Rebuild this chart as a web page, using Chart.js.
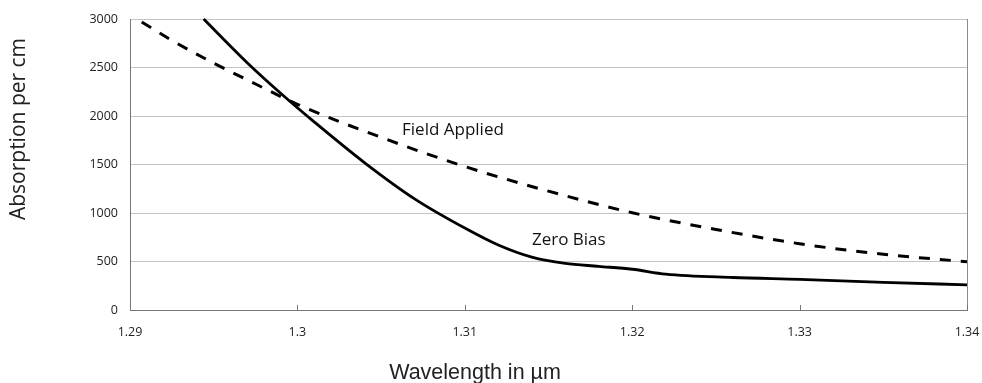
<!DOCTYPE html>
<html>
<head>
<meta charset="utf-8">
<script src="https://cdn.jsdelivr.net/npm/chart.js@4.4.1/dist/chart.umd.min.js"></script>
<style>
  html, body { margin: 0; padding: 0; background: #fff; }
  #wrap { width: 982px; height: 383px; }
</style>
</head>
<body>
<div id="wrap"><canvas id="absChart" width="982" height="383"></canvas></div>
<script>
// values
const zeroBiasWl = [1.2944, 1.297, 1.299, 1.301, 1.304, 1.307, 1.310, 1.312, 1.314, 1.316, 1.318, 1.320, 1.322, 1.326, 1.330, 1.335, 1.340];
const zeroBiasAbs = [3000, 2550, 2235, 1940, 1520, 1146, 845, 670, 545, 480, 450, 420, 370, 335, 315, 285, 260];

const fieldWl = [1.2907, 1.2925, 1.295, 1.2975, 1.300, 1.305, 1.310, 1.315, 1.320, 1.325, 1.330, 1.335, 1.340];
const fieldAbs = [2970, 2780, 2545, 2330, 2120, 1780, 1479, 1225, 1003, 830, 683, 575, 497];

const xTicks = [1.29, 1.3, 1.31, 1.32, 1.33, 1.34];
const yTicks = [0, 500, 1000, 1500, 2000, 2500, 3000];

const seriesNames = ["Zero Bias", "Field Applied"];
// where the in-plot labels sit (data coords, left edge / middle of text)
const labelSpots = [
    { text: "Field Applied", x: 1.30625, y: 1850 },
    { text: "Zero Bias", x: 1.31401, y: 724 }
];

function toPoints(xs, ys) {
    return xs.map((x, i) => ({ x: x, y: ys[i] }));
}

const frameAndText = {
    id: "frameAndText",
    afterDraw(chart) {
        const ctx = chart.ctx;
        const area = chart.chartArea;
        const xs = chart.scales.x;
        const ys = chart.scales.y;
        ctx.save();

        // right border of the plot
        ctx.strokeStyle = "#8c8c8c";
        ctx.lineWidth = 1;
        ctx.beginPath();
        ctx.moveTo(Math.round(area.right) + 0.5, area.top);
        ctx.lineTo(Math.round(area.right) + 0.5, area.bottom);
        ctx.stroke();

        // small tick marks pointing up into the plot
        ctx.strokeStyle = "#777";
        xTicks.forEach(v => {
            const px = Math.round(xs.getPixelForValue(v)) + 0.5;
            ctx.beginPath();
            ctx.moveTo(px, area.bottom);
            ctx.lineTo(px, area.bottom - 5);
            ctx.stroke();
        });

        // curve labels
        ctx.fillStyle = "#111";
        ctx.font = "17px 'Open Sans', sans-serif";
        ctx.textBaseline = "middle";
        ctx.textAlign = "left";
        labelSpots.forEach(l => {
            ctx.fillText(l.text, xs.getPixelForValue(l.x), ys.getPixelForValue(l.y));
        });

        // axis titles
        ctx.fillStyle = "#222";
        ctx.font = "21px 'Open Sans', sans-serif";
        ctx.textAlign = "center";
        ctx.save();
        ctx.translate(19, 129);
        ctx.rotate(-Math.PI / 2);
        ctx.fillText("Absorption per cm", 0, 0);
        ctx.restore();

        ctx.font = "21.5px 'Liberation Sans Narrow', 'Liberation Sans', sans-serif";
        ctx.fillText("Wavelength in µm", 475, 373);
        ctx.restore();
    }
};

const ctx = document.getElementById("absChart").getContext("2d");
new Chart(ctx, {
    type: "line",
    data: {
        datasets: [
            {
                label: seriesNames[0],
                data: toPoints(zeroBiasWl, zeroBiasAbs),
                borderColor: "#000",
                borderWidth: 2.8,
                pointRadius: 0,
                cubicInterpolationMode: "monotone",
                fill: false
            },
            {
                label: seriesNames[1],
                data: toPoints(fieldWl, fieldAbs),
                borderColor: "#000",
                borderWidth: 3,
                borderDash: [11, 10],
                pointRadius: 0,
                cubicInterpolationMode: "monotone",
                fill: false
            }
        ]
    },
    options: {
        responsive: false,
        animation: false,
        clip: false,
        layout: { padding: { left: 0, right: 15, top: 19, bottom: 0 } },
        plugins: {
            legend: { display: false },
            tooltip: { enabled: false }
        },
        scales: {
            x: {
                type: "linear",
                min: 1.29,
                max: 1.34,
                afterBuildTicks: scale => {
                    scale.ticks = xTicks.map(v => ({ value: v }));
                },
                afterFit: scale => {
                    scale.height = 73;
                    scale.paddingLeft = 0;
                    scale.paddingRight = 0;
                },
                grid: { display: false, drawTicks: false },
                border: { display: true, color: "#777", width: 1 },
                ticks: {
                    padding: 15,
                    color: "#222",
                    font: { family: "'Open Sans', sans-serif", size: 12.5 },
                    maxRotation: 0,
                    callback: v => String(Number(v.toFixed(2)))
                }
            },
            y: {
                type: "linear",
                min: 0,
                max: 3000,
                afterBuildTicks: scale => {
                    scale.ticks = yTicks.map(v => ({ value: v }));
                },
                afterFit: scale => {
                    scale.width = 130;
                    scale.paddingTop = 0;
                    scale.paddingBottom = 0;
                },
                grid: { color: "#c4c4c4", lineWidth: 1, drawTicks: false },
                border: { display: true, color: "#777", width: 1 },
                ticks: {
                    padding: 12,
                    color: "#222",
                    font: { family: "'Open Sans', sans-serif", size: 12.5 },
                    callback: v => String(v)
                }
            }
        }
    },
    plugins: [frameAndText]
});
</script>
</body>
</html>
